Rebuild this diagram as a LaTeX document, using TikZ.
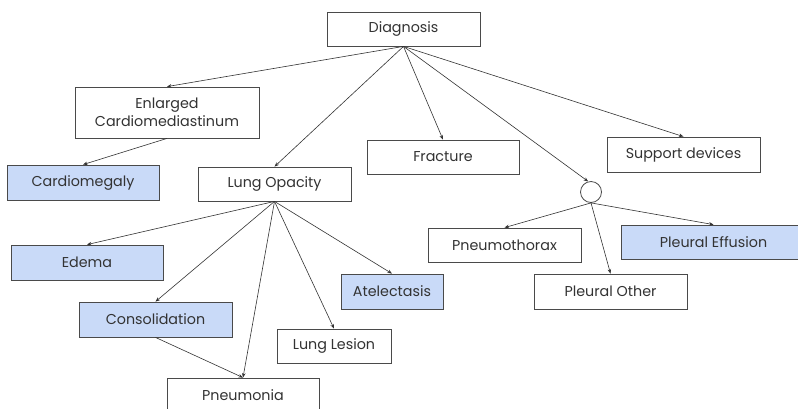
\documentclass[tikz,border=0pt]{standalone}
\usepackage{fontspec}
\setmainfont{Poppins}
\usetikzlibrary{arrows.meta}
\definecolor{boxline}{HTML}{4A4A4A}
\definecolor{arrline}{HTML}{333333}
\definecolor{hilite}{HTML}{C9DAF8}
\definecolor{txt}{HTML}{333333}
\tikzset{
  box/.style={draw=boxline, line width=0.8pt, fill=white, rectangle, inner sep=0pt,
    minimum height=34pt, text=txt, font=\fontsize{14.3}{18}\selectfont, align=center},
  hbox/.style={box, fill=hilite},
  arr/.style={draw=arrline, line width=0.6pt, -{Stealth[length=4.5pt,width=3.5pt]}},
  knot/.style={draw=boxline, line width=0.8pt, circle, fill=white, minimum size=21pt, inner sep=0pt}
}
\begin{document}
\begin{tikzpicture}[x=1pt,y=-1pt]
\useasboundingbox (0,0) rectangle (798,408);
\clip (0,0) rectangle (798,408);
\fill[white] (0,0) rectangle (798,408);
\node[box, minimum width=153pt] (diag) at (403.5,29) {Diagnosis};
\node[box, minimum width=184pt, minimum height=51pt] (enl) at (167,112.5) {Enlarged\\Cardiomediastinum};
\node[hbox, minimum width=152pt, minimum height=35pt] (cardio) at (83,182.5) {Cardiomegaly};
\node[box, minimum width=153pt] (lungop) at (274.5,184) {Lung Opacity};
\node[box, minimum width=152pt] (fract) at (443,157) {Fracture};
\node[box, minimum width=153pt, minimum height=35pt] (support) at (683.5,154.5) {Support devices};
\node[knot] (circ) at (591,192) {};
\node[box, minimum width=153pt] (pneumoth) at (504.5,245) {Pneumothorax};
\node[hbox, minimum width=185pt] (pleff) at (713.5,242) {Pleural Effusion};
\node[box, minimum width=153pt, minimum height=35pt] (plother) at (610.5,291.5) {Pleural Other};
\node[hbox, minimum width=152pt, minimum height=35pt] (edema) at (87,262.5) {Edema};
\node[hbox, minimum width=153pt, minimum height=35pt] (consol) at (155.5,319.5) {Consolidation};
\node[box, minimum width=114pt] (lesion) at (334,346) {Lung Lesion};
\node[hbox, minimum width=102pt, minimum height=35pt] (atel) at (392,291.5) {Atelectasis};
\node[box, minimum width=152pt] (pneumonia) at (243,395) {Pneumonia};

\draw[arr] (diag.south) -- (enl.north);
\draw[arr] (diag.south) -- (lungop.north);
\draw[arr] (diag.south) -- (fract.north);
\draw[arr] (diag.south) -- (circ.105);
\draw[arr] (diag.south) -- (support.north);
\draw[arr] (enl.south) -- (cardio.north);
\draw[arr] (lungop.south) -- (edema.north);
\draw[arr] (lungop.south) -- (consol.north);
\draw[arr] (lungop.south) -- (pneumonia.north);
\draw[arr] (lungop.south) -- (lesion.north);
\draw[arr] (lungop.south) -- (atel.north);
\draw[arr] (consol.south) -- (pneumonia.north);
\draw[arr] (circ.south) -- (pneumoth.north);
\draw[arr] (circ.south) -- (plother.north);
\draw[arr] (circ.south) -- (pleff.north);
\end{tikzpicture}
\end{document}
